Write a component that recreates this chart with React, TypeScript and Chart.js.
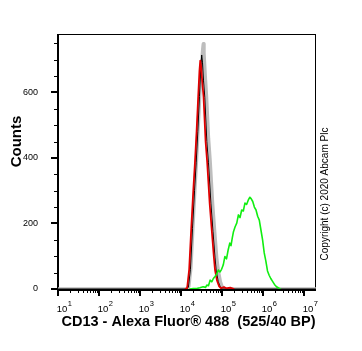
import React, { useEffect, useRef } from 'react';
import { Chart, registerables } from 'chart.js';

Chart.register(...registerables);

const W = 362;
const H = 351;

// axis ranges (x in log10 decades)
const xMinLog = 1;
const xMaxLog = 7.293;
const yMin = 0;
const yMax = 778;
const xDecades = [1, 2, 3, 4, 5, 6, 7];
const yMajorTicks = [0, 200, 400, 600];
const yMinorStep = 50;

// isotype control (thick grey)
const greyLog = [1.0, 4.14, 4.19, 4.24, 4.29, 4.34, 4.38, 4.42, 4.46, 4.50, 4.53, 4.545, 4.56, 4.59, 4.62, 4.67, 4.71, 4.77, 4.82, 4.87, 4.91, 4.96, 5.0, 5.05, 7.293];
const greyCounts = [0, 0, 8, 65, 190, 310, 400, 500, 600, 680, 730, 748, 720, 650, 590, 460, 390, 260, 175, 95, 55, 22, 8, 0, 0];

// unstained (black)
const blackLog = [1.0, 4.13, 4.18, 4.23, 4.28, 4.33, 4.37, 4.41, 4.45, 4.48, 4.505, 4.525, 4.55, 4.58, 4.63, 4.67, 4.73, 4.78, 4.83, 4.86, 4.91, 4.96, 5.0, 7.293];
const blackCounts = [0, 0, 5, 60, 185, 300, 385, 480, 587, 670, 714, 690, 635, 585, 450, 385, 260, 175, 95, 55, 22, 6, 0, 0];

// secondary only (red)
const redLog = [4.10, 4.15, 4.20, 4.25, 4.30, 4.34, 4.38, 4.42, 4.45, 4.47, 4.49, 4.52, 4.55, 4.60, 4.64, 4.70, 4.75, 4.80, 4.83, 4.88, 4.93, 4.97, 5.05, 5.10, 5.20, 5.30];
const redCounts = [0, 3, 60, 185, 300, 385, 480, 587, 665, 697, 680, 630, 587, 450, 385, 260, 180, 100, 58, 25, 8, 3, 6, 2, 4, 0];

// CD13 stained (green)
const greenLog = [4.20, 4.30, 4.40, 4.46, 4.54, 4.60, 4.63, 4.67, 4.71, 4.75, 4.79, 4.83, 4.87, 4.91, 4.95, 4.99, 5.03, 5.07, 5.11, 5.15, 5.19, 5.22, 5.25, 5.28, 5.32, 5.36, 5.40, 5.44, 5.48, 5.52, 5.56, 5.60, 5.64, 5.68, 5.71, 5.75, 5.79, 5.83, 5.87, 5.91, 5.95, 5.99, 6.03, 6.07, 6.11, 6.15, 6.19, 6.23, 6.28, 6.33, 6.38, 6.43];
const greenCounts = [0, 1, 2, 4, 7, 5, 12, 10, 27, 22, 32, 38, 45, 58, 52, 60, 73, 99, 92, 119, 140, 132, 155, 175, 190, 201, 226, 218, 241, 238, 262, 258, 271, 280, 276, 267, 250, 241, 222, 210, 180, 150, 110, 85, 55, 42, 32, 24, 14, 7, 3, 0];

const xTitle = 'CD13 - Alexa Fluor® 488  (525/40 BP)';
const yTitle = 'Counts';
const copyright = 'Copyright (c) 2020 Abcam Plc';

const SANS = "'Liberation Sans', Arial, Helvetica, sans-serif";

function toPoints(xs: number[], ys: number[]) {
  return xs.map((x, i) => ({ x, y: ys[i] }));
}

const framePlugin = {
  id: 'frame',
  beforeDatasetsDraw(chart: any) {
    const { ctx, chartArea: a } = chart;
    ctx.save();
    ctx.fillStyle = '#000';
    ctx.fillRect(a.left, a.top, a.right - a.left, 1);
    ctx.fillRect(a.right - 1, a.top, 1, a.bottom - a.top);
    ctx.fillRect(a.left - 1, a.top, 2, a.bottom - a.top + 2);
    ctx.fillRect(a.left - 1, a.bottom, a.right - a.left + 1, 2);
    ctx.restore();
  },
  afterDraw(chart: any) {
    const { ctx, chartArea: a, scales } = chart;
    const xs = scales.x;
    const ys = scales.y;
    ctx.save();
    ctx.fillStyle = '#000';
    // x ticks
    for (let n = Math.floor(xMinLog); n <= Math.ceil(xMaxLog); n++) {
      for (let k = 1; k <= 9; k++) {
        const v = n + Math.log10(k);
        if (v < xMinLog - 1e-6 || v > xMaxLog) continue;
        const px = Math.round(xs.getPixelForValue(v));
        if (k === 1) ctx.fillRect(px - 1, a.bottom, 2, 7);
        else ctx.fillRect(px, a.bottom, 1, 4);
      }
    }
    // y ticks
    for (let v = yMin; v <= yMax; v += yMinorStep) {
      const py = Math.round(ys.getPixelForValue(v));
      if (yMajorTicks.includes(v)) ctx.fillRect(a.left - 7, py - 1, 7, 2);
      else ctx.fillRect(a.left - 4, py, 4, 1);
    }
    // x tick labels 10^n
    ctx.textBaseline = 'alphabetic';
    for (const n of xDecades) {
      const px = xs.getPixelForValue(n) + 4;
      ctx.font = `9.5px ${SANS}`;
      ctx.textAlign = 'center';
      ctx.fillText('10', px, a.bottom + 22.5);
      const w = ctx.measureText('10').width;
      ctx.font = `7.5px ${SANS}`;
      ctx.textAlign = 'left';
      ctx.fillText(String(n), px + w / 2 + 0.5, a.bottom + 17);
    }
    // x title
    ctx.font = `bold 14.5px ${SANS}`;
    ctx.textAlign = 'center';
    ctx.textBaseline = 'middle';
    ctx.fillText(xTitle, (a.left + a.right) / 2 + 1.5, a.bottom + 33);
    // y title
    ctx.save();
    ctx.translate(16.5, (a.top + a.bottom) / 2 - 20);
    ctx.rotate(-Math.PI / 2);
    ctx.font = `bold 15px ${SANS}`;
    ctx.textAlign = 'center';
    ctx.textBaseline = 'middle';
    ctx.fillText(yTitle, 0, 0);
    ctx.restore();
    // copyright
    ctx.save();
    ctx.translate(a.right + 9.5, (a.top + a.bottom) / 2 + 32.5);
    ctx.rotate(-Math.PI / 2);
    ctx.font = `10px ${SANS}`;
    ctx.textAlign = 'center';
    ctx.textBaseline = 'middle';
    ctx.fillText(copyright, 0, 0);
    ctx.restore();
    ctx.restore();
  },
};

export default function App() {
  const ref = useRef<HTMLCanvasElement | null>(null);

  useEffect(() => {
    if (!ref.current) return;
    const chart = new Chart(ref.current, {
      type: 'line',
      data: {
        datasets: [
          { label: 'CD13', data: toPoints(greenLog, greenCounts), borderColor: '#10ee10', borderWidth: 1.6, order: 0 },
          { label: 'Secondary', data: toPoints(redLog, redCounts), borderColor: '#e00000', borderWidth: 1.8, order: 1 },
          { label: 'Unstained', data: toPoints(blackLog, blackCounts), borderColor: '#000000', borderWidth: 1, order: 2 },
          { label: 'Isotype', data: toPoints(greyLog, greyCounts), borderColor: '#bdbdbd', borderWidth: 3.5, order: 3 },
        ] as any,
      },
      options: {
        animation: false,
        responsive: false,
        devicePixelRatio: 1,
        elements: {
          point: { radius: 0 },
          line: { tension: 0, borderJoinStyle: 'round', fill: false },
        },
        layout: { padding: { left: 0, right: 46, top: 34, bottom: 0 } },
        plugins: { legend: { display: false }, tooltip: { enabled: false }, title: { display: false } },
        scales: {
          x: {
            type: 'linear',
            min: xMinLog,
            max: xMaxLog,
            grid: { display: false, drawTicks: false },
            border: { display: false },
            ticks: { display: false },
            afterFit: (s: any) => { s.height = 62; },
          },
          y: {
            type: 'linear',
            min: yMin,
            max: yMax,
            grid: { display: false, drawTicks: false },
            border: { display: false },
            ticks: {
              stepSize: yMinorStep,
              autoSkip: false,
              padding: 20,
              color: '#000',
              font: { size: 9, family: SANS },
              callback: (v: any) => (yMajorTicks.includes(Number(v)) ? String(v) : ''),
            },
            afterFit: (s: any) => { s.width = 58; },
          },
        },
      } as any,
      plugins: [framePlugin],
    });
    return () => chart.destroy();
  }, []);

  return (
    <div style={{ position: 'absolute', left: 0, top: 0, width: W, height: H, background: '#fff' }}>
      <canvas ref={ref} width={W} height={H} style={{ width: W, height: H, display: 'block' }} />
    </div>
  );
}
